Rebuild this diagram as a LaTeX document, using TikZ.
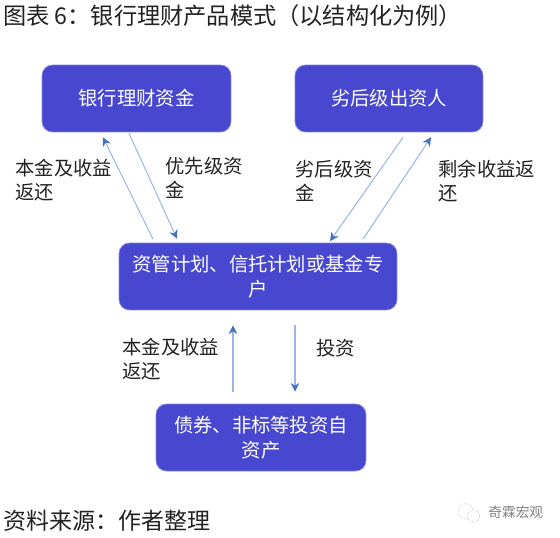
\documentclass[tikz,border=0pt]{standalone}
\usepackage{fontspec}
\setmainfont{Noto Sans CJK SC}
\usetikzlibrary{arrows.meta,calc}
\definecolor{boxblue}{HTML}{4747CF}
\definecolor{boxedge}{HTML}{8585E0}
\definecolor{flowline}{HTML}{9DB7E4}
\definecolor{flowtip}{HTML}{4472C4}
\definecolor{inktext}{HTML}{222222}
\tikzset{
  fundbox/.style={draw=boxedge, line width=0.4pt, fill=boxblue, rounded corners=6pt,
    text=white, align=center, inner sep=0pt, font=\fontsize{11}{14}\selectfont},
  flow/.style={draw=flowline, line width=0.6pt, -{Stealth[length=5pt,width=5pt,color=flowtip]}},
  flowlabel/.style={anchor=west, align=left, inner sep=0pt, text=inktext, font=\fontsize{11}{13.6}\selectfont},
  pagetext/.style={anchor=west, inner sep=0pt, text=inktext},
}
\begin{document}
\begin{tikzpicture}[x=0.02cm, y=-0.02cm]
\useasboundingbox (0,0) rectangle (560,537);
% title and source lines
\node[pagetext, font=\fontsize{13.2}{15}\selectfont] (title) at (3,15.5) {图表 6：银行理财产品模式（以结构化为例）};
\node[pagetext, font=\fontsize{13.1}{15}\selectfont] (source) at (3,521) {资料来源：作者整理};
% boxes
\node[fundbox, minimum width=3.78cm, minimum height=1.34cm] (bank) at (136.5,98.5) {银行理财资金};
\node[fundbox, minimum width=3.76cm, minimum height=1.34cm] (junior) at (389,98.5) {劣后级出资人};
\node[fundbox, minimum width=5.56cm, minimum height=1.34cm] (plan) at (258,276.5) {资管计划、信托计划或基金专\\户};
\node[fundbox, minimum width=4.2cm, minimum height=1.34cm] (assets) at (261,437.5) {债券、非标等投资自\\资产};
% top left pair
\draw[flow] ($(plan.north)+(-105,-3.5)$) -- ($(bank.south)+(-33.5,5)$);
\draw[flow] ($(bank.south)+(-7.5,1)$) -- ($(plan.north)+(-81,-4)$);
% top right pair
\draw[flow] ($(junior.south)+(14,5)$) -- ($(plan.north)+(72,-1.5)$);
\draw[flow] ($(plan.north)+(105,-3.5)$) -- ($(junior.south)+(42,5)$);
% bottom pair
\draw[flow] ($(assets.north)+(-28,-12)$) -- ($(plan.south)+(-25,15)$);
\draw[flow] ($(plan.south)+(37,15)$) -- ($(assets.north)+(34,-12)$);
% labels
\node[flowlabel] (lblreturna) at (15,180.5) {本金及收益\\返还};
\node[flowlabel] (lblsenior) at (165,178) {优先级资\\金};
\node[flowlabel] (lbljunior) at (295,181) {劣后级资\\金};
\node[flowlabel] (lblresidual) at (438,181) {剩余收益返\\还};
\node[flowlabel] (lblreturnb) at (122,359.5) {本金及收益\\返还};
\node[flowlabel] (lblinvest) at (316,348) {投资};
% watermark
\draw[gray!60, densely dotted, line width=0.4pt] (465.5,511) circle (7.5);
\draw[gray!60, densely dotted, line width=0.4pt, fill=white] (473.5,516) circle (6);
\node[pagetext, text=gray, font=\fontsize{7.8}{9}\selectfont] (mark) at (488,512) {奇霖宏观};
\end{tikzpicture}
\end{document}
